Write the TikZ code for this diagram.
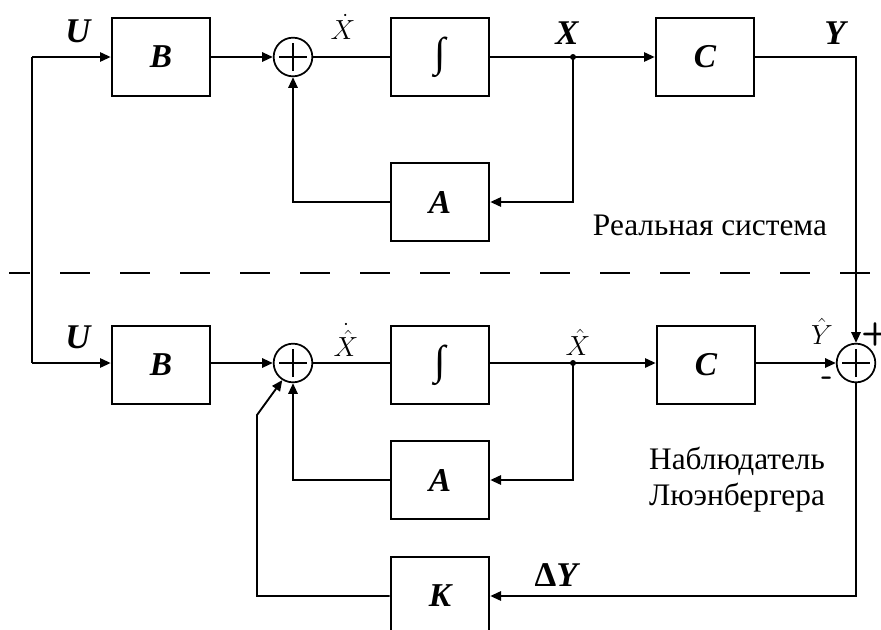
\documentclass[tikz,border=0pt]{standalone}
\usepackage{fontspec}
\setmainfont{Liberation Serif}
\usetikzlibrary{arrows.meta}
\tikzset{
  blk/.style={draw, line width=1.5pt, minimum width=74pt, minimum height=58pt, inner sep=0pt,
    font=\fontsize{25}{25}\selectfont\bfseries\itshape},
  sumnode/.style={draw, circle, line width=1.3pt, minimum size=29pt, inner sep=0pt,
    path picture={\draw[line width=1.3pt] ([xshift=-10.5pt]path picture bounding box.center) -- ([xshift=10.5pt]path picture bounding box.center);
                  \draw[line width=1.3pt] ([yshift=-10.5pt]path picture bounding box.center) -- ([yshift=10.5pt]path picture bounding box.center);}},
  wire/.style={line width=1.4pt},
  arr/.style={wire, -{Triangle[length=8pt,width=7pt]}},
  lab/.style={font=\fontsize{26}{26}\selectfont\bfseries\itshape, inner sep=0pt},
  mlab/.style={font=\fontsize{20}{20}\selectfont, inner sep=0pt},
  txt/.style={font=\fontsize{23.5}{27}\selectfont, align=center, inner sep=0pt},
  dotj/.style={circle, fill, minimum size=4.5pt, inner sep=0pt},
  sgn/.style={font=\fontsize{24}{24}\selectfont\bfseries\sffamily, inner sep=0pt},
  intg/.style={font=\fontsize{31}{31}\selectfont\bfseries, inner sep=0pt}
}
\begin{document}
\begin{tikzpicture}[x=0.75pt,y=-0.75pt]
\useasboundingbox (0,0) rectangle (881,629);
% top row
\node[blk] (B1) at (161,57) {B};
\node[sumnode] (S1) at (293,57) {};
\node[blk] (I1) at (440,57) {};
\node[intg] (i1) at (I1.center) {∫};
\node[dotj] (D1) at (573,57) {};
\node[blk] (C1) at (705,57) {C};
\node[blk] (A1) at (440,202) {A};
% bottom row
\node[blk] (B2) at (161,365) {B};
\node[sumnode] (S2) at (293,363) {};
\node[blk] (I2) at (440,365) {};
\node[intg] (i2) at (I2.center) {∫};
\node[dotj] (D2) at (573,363) {};
\node[blk] (C2) at (706,365) {C};
\node[sumnode] (S3) at (856,363) {};
\node[blk] (A2) at (440,480) {A};
\node[blk] (K) at (440,596) {K};
% coordinates
\coordinate (L1) at (32,57);
\coordinate (L2) at (32,363);
\coordinate (Ya) at (856,57);
\coordinate (Ka) at (856,596);
\coordinate (Kb) at (257,596);
\coordinate (Kc) at (257,415);
% dashed separator
\draw[line width=1.4pt, dash pattern=on 22.5pt off 22.5pt, dash phase=6.75pt] (9,273) -- (881,273);
% wires top
\draw[wire] (L1) -- (L2);
\draw[arr] (L1) -- (B1.west);
\draw[arr] (B1.east) -- (S1.west);
\draw[wire] (S1.east) -- (I1.west);
\draw[arr] (I1.east) -- (C1.west);
\draw[arr] (D1.center) |- (A1.east);
\draw[arr] (A1.west) -| (S1.south);
\draw[arr] (C1.east) -- (Ya) -- (S3.north);
% wires bottom
\draw[arr] (L2) -- (B2.west |- L2);
\draw[arr] (B2.east |- S2) -- (S2.west);
\draw[wire] (S2.east) -- (I2.west |- S2);
\draw[arr] (I2.east |- D2) -- (C2.west |- D2);
\draw[arr] (D2.center) |- (A2.east);
\draw[arr] (A2.west) -| (S2.south);
\draw[arr] (C2.east |- S3) -- (S3.west);
\draw[arr] (S3.south) -- (Ka) -- (K.east);
\draw[arr] (K.west) -- (Kb) -- (Kc) -- (S2.-122);
% labels
\node[lab] (lU1) at (78,31) {U};
\node[mlab] (lXd) at (343,27) {$\dot{X}$};
\node[lab] (lX) at (567,33) {X};
\node[lab] (lY) at (835,33) {Y};
\node[lab] (lU2) at (78,337) {U};
\node[mlab] (lXhd) at (346,340) {$\dot{\hat{X}}$};
\node[mlab] (lXh) at (578,342) {$\hat{X}$};
\node[mlab] (lYh) at (822,331) {$\hat{Y}$};
\node[sgn] (plus) at (875,334) {+};
\node[sgn] (minus) at (827,381) {-};
\node[lab] (ldY) at (556,575) {\upshape Δ\itshape Y};
\node[txt] (real) at (710,225) {Реальная система};
\node[txt] (obs) at (737,480) {Наблюдатель\\Люэнбергера};
\end{tikzpicture}
\end{document}
